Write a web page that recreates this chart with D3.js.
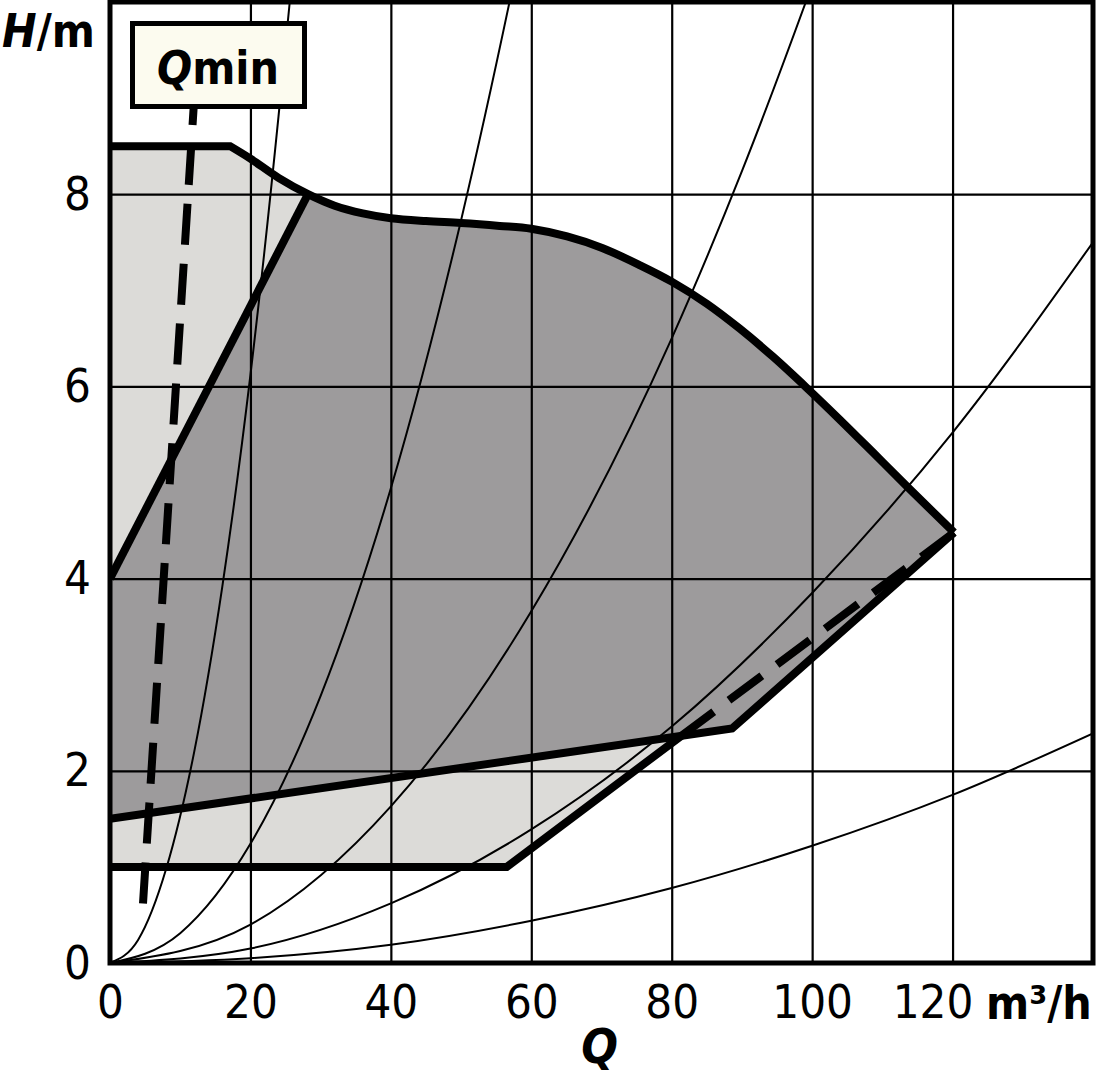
<!DOCTYPE html>
<html>
<head>
<meta charset="utf-8">
<script src="https://cdn.jsdelivr.net/npm/d3@7"></script>
<style>
  html, body { margin: 0; padding: 0; background: #fff; }
  svg { display: block; }
  text { font-family: "DejaVu Sans Condensed", "DejaVu Sans", sans-serif; font-stretch: condensed; }
</style>
</head>
<body>
<svg id="chart" width="1098" height="1080"></svg>
<script>
// axis ticks
const qTicks = [0, 20, 40, 60, 80, 100, 120];
const hTicks = [0, 2, 4, 6, 8];
const qGrid = [20, 40, 60, 80, 100, 120];
const hGrid = [2, 4, 6, 8];

// max speed envelope (Q m3/h, H m)
const maxCurve = [
  [0, 8.5], [17.1, 8.5], [20, 8.37], [24, 8.17], [28.2, 8.0], [32, 7.88], [36, 7.8],
  [40, 7.75], [45, 7.72], [50, 7.7], [55.5, 7.67], [60, 7.64], [65.1, 7.56], [70.1, 7.44],
  [75.5, 7.26], [80, 7.09], [85, 6.86], [89.7, 6.6], [94.4, 6.31], [99.3, 5.98],
  [104, 5.65], [108.7, 5.31], [113.5, 4.96], [120.2, 4.48]
];
// lower limit of the light field: solid part, then dashed inside the dark field
const lowerSolid = [[0, 1.0], [56.5, 1.0], [81.3, 2.36]];
const lowerDashed = [[81.3, 2.36], [120.2, 4.48]];
// dark field edges
const darkLeft = [[0, 4.0], [28.2, 8.0]];
const darkBottom = [[0, 1.5], [88.6, 2.44], [120.2, 4.48]];

// system curves
const sys1 = [[0, 0], [4, 0.24], [8, 0.98], [12, 2.2], [16, 3.92], [20, 6.12], [24, 8.81], [25.6, 10.0], [27, 11.1]];
const sys2 = [[0, 0], [10, 0.31], [20, 1.24], [30, 2.78], [40, 4.94], [50, 7.73], [56.9, 10.0], [60, 11.1]];
const sys3 = [[0, 0], [20, 0.4], [40, 1.63], [60, 3.66], [80, 6.5], [90, 8.24], [99.1, 10.0], [104, 11.0]];
const sys4 = [[0, 0], [20, 0.15], [40, 0.62], [60, 1.39], [80, 2.46], [100, 3.85], [120, 5.52], [140, 7.5]];
const sys5 = [[0, 0], [20, 0.05], [40, 0.19], [60, 0.44], [80, 0.78], [100, 1.22], [120, 1.75], [140, 2.39]];

// Qmin dashed line
const qminLine = [[4.7, 0.62], [12.0, 9.0]];

const svg = d3.select('#chart');
const margin = { top: 2, right: 5, bottom: 117, left: 110 };
const width = 1098, height = 1080;

const xScale = d3.scaleLinear([0, 140], [margin.left, width - margin.right]);
const yScale = d3.scaleLinear([0, 10], [height - margin.bottom, margin.top]);

const color = {
  light: '#dcdbd8',
  dark: '#9d9b9c',
  box: '#fcfbef'
};
const fontFamily = '"DejaVu Sans Condensed", "DejaVu Sans", sans-serif';

svg.append('defs').append('clipPath')
    .attr('id', 'plot-clip')
  .append('rect')
    .attr('x', xScale(0))
    .attr('y', yScale(10))
    .attr('width', xScale(140) - xScale(0))
    .attr('height', yScale(0) - yScale(10));

const plot = svg.append('g').attr('clip-path', 'url(#plot-clip)');

const smooth = d3.line()
  .curve(d3.curveMonotoneX)
  .x(d => xScale(d[0]))
  .y(d => yScale(d[1]));
const spline = d3.line()
  .curve(d3.curveCatmullRom.alpha(0.5))
  .x(d => xScale(d[0]))
  .y(d => yScale(d[1]));
const straight = d3.line()
  .x(d => xScale(d[0]))
  .y(d => yScale(d[1]));
const pt = d => `L${xScale(d[0])},${yScale(d[1])}`;

// envelope: flat start, then the spline
const envelope = `M${xScale(maxCurve[0][0])},${yScale(maxCurve[0][1])}L` + spline(maxCurve.slice(1)).slice(1);

// light field
const lightEdge = [lowerSolid[1], lowerSolid[0]];
plot.append('path')
  .attr('d', envelope + lightEdge.map(pt).join('') + 'Z')
  .attr('fill', color.light);

// dark field
const darkTop = spline(maxCurve.filter(d => d[0] >= 28.2));
plot.append('path')
  .attr('d', straight(darkLeft) + 'L' + darkTop.slice(1) + darkBottom.slice().reverse().map(pt).join('') + 'Z')
  .attr('fill', color.dark);

// grid
plot.append('g')
  .attr('transform', `translate(0,${yScale(0)})`)
  .call(d3.axisBottom(xScale).tickValues(qGrid).tickSize(-(yScale(0) - yScale(10))).tickFormat(''))
  .call(g => g.select('.domain').remove())
  .call(g => g.selectAll('.tick line').attr('stroke', '#000').attr('stroke-width', 2.2));
plot.append('g')
  .attr('transform', `translate(${xScale(0)},0)`)
  .call(d3.axisLeft(yScale).tickValues(hGrid).tickSize(-(xScale(140) - xScale(0))).tickFormat(''))
  .call(g => g.select('.domain').remove())
  .call(g => g.selectAll('.tick line').attr('stroke', '#000').attr('stroke-width', 2.2));

// system curves
plot.append('g')
  .attr('fill', 'none')
  .attr('stroke', '#000')
  .attr('stroke-width', 2)
.selectAll('path')
  .data([sys1, sys2, sys3, sys4, sys5])
.join('path')
  .attr('d', d => smooth(d));

// thick outlines
const outlines = plot.append('g')
  .attr('fill', 'none')
  .attr('stroke', '#000')
  .attr('stroke-width', 8);
outlines.append('path').attr('d', envelope);
outlines.append('path').attr('d', straight(lowerSolid));
outlines.append('path').attr('d', straight(darkLeft));
outlines.append('path').attr('d', straight(darkBottom));

// dashed lines
plot.append('g')
  .attr('fill', 'none')
  .attr('stroke', '#000')
  .attr('stroke-width', 8)
  .attr('stroke-dasharray', '41 19')
.selectAll('path')
  .data([qminLine, lowerDashed])
.join('path')
  .attr('d', d => straight(d));

// frame
svg.append('rect')
  .attr('x', xScale(0))
  .attr('y', yScale(10))
  .attr('width', xScale(140) - xScale(0))
  .attr('height', yScale(0) - yScale(10))
  .attr('fill', 'none')
  .attr('stroke', '#000')
  .attr('stroke-width', 5);

// tick labels
svg.append('g')
  .attr('transform', `translate(0,${yScale(0)})`)
  .call(d3.axisBottom(xScale).tickValues(qTicks).tickSize(0).tickPadding(22))
  .call(g => g.select('.domain').remove())
  .call(g => g.selectAll('text')
    .attr('fill', '#000')
    .attr('font-size', 47)
    .attr('font-family', fontFamily)
    .attr('dx', d => d === 120 ? -20 : 0));
svg.append('g')
  .attr('transform', `translate(${xScale(0)},0)`)
  .call(d3.axisLeft(yScale).tickValues(hTicks).tickSize(0).tickPadding(19))
  .call(g => g.select('.domain').remove())
  .call(g => g.selectAll('text')
    .attr('fill', '#000')
    .attr('font-size', 47)
    .attr('font-family', fontFamily));

// axis names
const yName = svg.append('text')
  .attr('x', 2)
  .attr('y', 47)
  .attr('font-size', 46)
  .attr('font-weight', 700);
yName.append('tspan').attr('font-style', 'italic').text('H');
yName.append('tspan').text('/m');

svg.append('text')
  .attr('x', 986)
  .attr('y', 1019)
  .attr('font-size', 46)
  .attr('font-weight', 700)
  .text('m³/h');

svg.append('text')
  .attr('x', xScale(70) - 2)
  .attr('y', 1063)
  .attr('text-anchor', 'middle')
  .attr('font-size', 48)
  .attr('font-weight', 700)
  .attr('font-style', 'italic')
  .text('Q');

// Qmin label box
const box = svg.append('g');
box.append('rect')
  .attr('x', 132.5)
  .attr('y', 23.5)
  .attr('width', 172)
  .attr('height', 83)
  .attr('fill', color.box)
  .attr('stroke', '#000')
  .attr('stroke-width', 5);
const boxText = box.append('text')
  .attr('x', 218)
  .attr('y', 84)
  .attr('text-anchor', 'middle')
  .attr('font-size', 46)
  .attr('font-weight', 700);
boxText.append('tspan').attr('font-style', 'italic').text('Q');
boxText.append('tspan').text('min');
</script>
</body>
</html>
